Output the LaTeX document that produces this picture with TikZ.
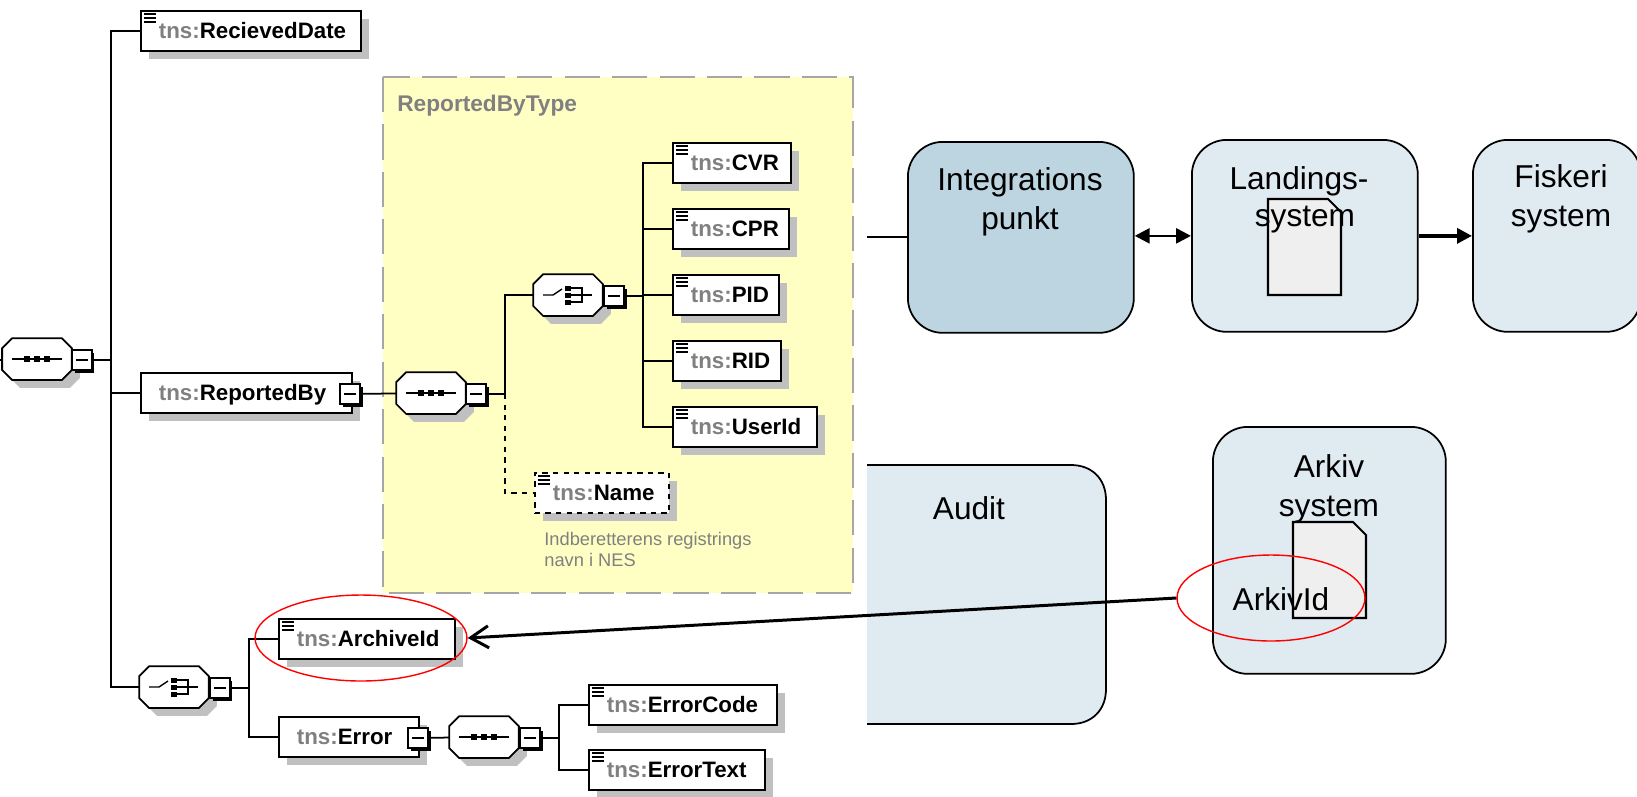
\documentclass[tikz,border=0pt]{standalone}
\usepackage{fontspec}
\setmainfont{Liberation Sans}
\usetikzlibrary{arrows.meta,shadows,shapes.geometric}

\definecolor{panelyellow}{HTML}{FFFFC4}
\definecolor{paneldash}{HTML}{A6A6A6}
\definecolor{boxshadow}{HTML}{C0C0C0}
\definecolor{tnsgray}{HTML}{808080}
\definecolor{lightblue}{HTML}{DFEAF1}
\definecolor{darkblue}{HTML}{BCD5E1}
\definecolor{sheetgray}{HTML}{EFEFEF}

\newcommand{\tns}[1]{\textbf{\textcolor{tnsgray}{tns:}#1}}

\makeatletter
\pgfdeclareshape{octabox}{
  \inheritsavedanchors[from=rectangle]
  \inheritanchorborder[from=rectangle]
  \inheritanchor[from=rectangle]{center}
  \inheritanchor[from=rectangle]{west}
  \inheritanchor[from=rectangle]{east}
  \backgroundpath{
    \southwest \pgf@xa=\pgf@x \pgf@ya=\pgf@y
    \northeast \pgf@xb=\pgf@x \pgf@yb=\pgf@y
    \pgfpathmoveto{\pgfqpoint{\dimexpr\pgf@xa+.2cm\relax}{\pgf@ya}}
    \pgfpathlineto{\pgfqpoint{\dimexpr\pgf@xb-.2cm\relax}{\pgf@ya}}
    \pgfpathlineto{\pgfqpoint{\pgf@xb}{\dimexpr\pgf@ya+.2cm\relax}}
    \pgfpathlineto{\pgfqpoint{\pgf@xb}{\dimexpr\pgf@yb-.2cm\relax}}
    \pgfpathlineto{\pgfqpoint{\dimexpr\pgf@xb-.2cm\relax}{\pgf@yb}}
    \pgfpathlineto{\pgfqpoint{\dimexpr\pgf@xa+.2cm\relax}{\pgf@yb}}
    \pgfpathlineto{\pgfqpoint{\pgf@xa}{\dimexpr\pgf@yb-.2cm\relax}}
    \pgfpathlineto{\pgfqpoint{\pgf@xa}{\dimexpr\pgf@ya+.2cm\relax}}
    \pgfpathclose
  }
}
\makeatother

\tikzset{
  link/.style={line width=1pt},
  softshadow/.style={drop shadow={shadow xshift=.16cm,shadow yshift=-.16cm,opacity=1,fill=boxshadow}},
  tnsbox/.style={draw, line width=1pt, fill=white, softshadow, anchor=west, inner ysep=0pt, inner xsep=.36cm,
    text width=#1*0.02cm-0.72cm, minimum height=.8cm, text height=.33cm, text depth=.02cm, align=left,
    font=\fontsize{12.7}{14}\selectfont},
  noted/.style={path picture={
    \foreach \dy in {3,7,11}
      \draw[solid, line width=.9pt] ([shift={(3,\dy)}]path picture bounding box.north west) -- +(12,0);
  }},
  octagon/.style={shape=octabox, draw, line width=1pt, fill=white, softshadow, inner sep=0pt,
    minimum width=1.36cm, minimum height=.8cm},
  seqgroup/.style={octagon, path picture={
    \begin{scope}[shift={(path picture bounding box.center)}]
      \draw[line width=.8pt] (-25,0) -- (25,0);
      \foreach \dx in {-10,0,10}
        \fill[black] (\dx-3,-3) rectangle (\dx+3,3);
    \end{scope}
  }},
  choicegroup/.style={octagon, path picture={
    \begin{scope}[shift={(path picture bounding box.center)}]
      \draw[line width=.8pt] (-25,0) -- (-15,0) -- (-6,-6);
      \draw[line width=.8pt] (0,-7) -- (14,-7) -- (14,7) -- (0,7) (0,0) -- (24,0);
      \foreach \dy in {-7,0,7}
        \fill[black] (-3,\dy-2.5) rectangle (3,\dy+2.5);
    \end{scope}
  }},
  minusbox/.style={draw, line width=1pt, fill=white, inner sep=0pt, minimum size=.4cm,
    drop shadow={shadow xshift=.05cm,shadow yshift=-.05cm,opacity=1,fill=black},
    path picture={
      \draw[line width=.8pt] ([shift={(4,0)}]path picture bounding box.west) -- ([shift={(-4,0)}]path picture bounding box.east);
  }},
  sysbox/.style={draw, line width=1pt, rounded corners=.7cm, fill=lightblue, anchor=north west},
  systext/.style={font=\fontsize{18}{22.2}\selectfont, align=center, inner sep=0pt},
  redoval/.style={ellipse, draw=red, line width=.8pt, inner sep=0pt},
  docsheet/.pic={
    \draw[line width=1.2pt, fill=sheetgray] (0,0) -- (60,0) -- (73,13) -- (73,96) -- (0,96) -- cycle;
  }
}

\begin{document}
\begin{tikzpicture}[x=0.02cm,y=-0.02cm]
  \useasboundingbox (1,0) rectangle (1638,796);

  % yellow type panel
  \fill[panelyellow] (384,77) rectangle (854,593);
  \draw[paneldash, line width=1.5pt, dash pattern=on 20pt off 7pt] (384,77) rectangle (854,593);
  \node[anchor=west, inner sep=0pt, text=tnsgray, font=\fontsize{12.9}{14}\selectfont\bfseries] (typename) at (398,106) {ReportedByType};

  % root sequence and its children
  \node[seqgroup] (rootseq) at (38,359) {};
  \node[minusbox] (rootminus) at (83,360) {};
  \coordinate (trunk) at (112,360);
  \draw[link] (1,360) -- (rootseq);
  \draw[link] (rootminus) -- (trunk);

  \node[tnsbox=220, noted] (recieved) at (141,31) {\tns{RecievedDate}};
  \node[tnsbox=211] (reported) at (141,393) {\tns{ReportedBy}};
  \node[minusbox] (reportedminus) at (351,394) {};
  \node[choicegroup] (rootchoice) at (175,687) {};
  \node[minusbox] (choiceminus) at (221,688) {};
  \draw[link] (trunk) |- (recieved);
  \draw[link] (trunk) |- (reported);
  \draw[link] (trunk) |- (rootchoice);

  % inside the panel
  \node[seqgroup] (typeseq) at (432,393) {};
  \node[minusbox] (typeminus) at (477,394) {};
  \node[choicegroup] (typechoice) at (569,295) {};
  \node[minusbox] (typechoiceminus) at (615,296) {};
  \coordinate (typetrunk) at (506,394);
  \coordinate (idtrunk) at (644,296);
  \draw[link] (reportedminus) -- (typeseq);
  \draw[link] (typeminus) -- (typetrunk);
  \draw[link] (typetrunk) |- (typechoice);
  \draw[link] (typechoiceminus) -- (idtrunk);
  \foreach \nm/\lbl/\bw/\yy in {cvr/CVR/118/163,cpr/CPR/116/229,pid/PID/106/295,rid/RID/108/361,userid/UserId/144/427}
  {
    \node[tnsbox=\bw, noted] (\nm) at (673,\yy) {\tns{\lbl}};
    \draw[link] (idtrunk) |- (\nm);
  }
  \node[tnsbox=134, noted, dashed] (name) at (535,493) {\tns{Name}};
  \draw[link, dashed] (typetrunk) |- (name);
  \node[anchor=north west, inner sep=0pt, text=tnsgray, align=left, font=\fontsize{10.4}{11.9}\selectfont] (namenote) at (545,532) {Indberetterens registrings\\navn i NES};

  % bottom choice
  \coordinate (lowtrunk) at (250,688);
  \draw[link] (choiceminus) -- (lowtrunk);
  \node[tnsbox=176, noted] (archive) at (279,639) {\tns{ArchiveId}};
  \node[tnsbox=140] (error) at (279,737) {\tns{Error}};
  \node[minusbox] (errorminus) at (419,738) {};
  \node[seqgroup] (errorseq) at (485,737) {};
  \node[minusbox] (errorseqminus) at (531,738) {};
  \coordinate (errortrunk) at (560,738);
  \draw[link] (lowtrunk) |- (archive);
  \draw[link] (lowtrunk) |- (error);
  \draw[link] (errorminus) -- (errorseq);
  \draw[link] (errorseqminus) -- (errortrunk);
  \node[tnsbox=188, noted] (errorcode) at (589,705) {\tns{ErrorCode}};
  \node[tnsbox=176, noted] (errortext) at (589,770) {\tns{ErrorText}};
  \draw[link] (errortrunk) |- (errorcode);
  \draw[link] (errortrunk) |- (errortext);

  % system boxes
  \node[sysbox, fill=darkblue, minimum width=4.52cm, minimum height=3.82cm] (integration) at (908,141) {};
  \node[sysbox, minimum width=4.52cm, minimum height=3.84cm] (landing) at (1192,139) {};
  \node[sysbox, minimum width=3.36cm, minimum height=3.84cm] (fishery) at (1473,139) {};
  \node[sysbox, minimum width=4.66cm, minimum height=4.94cm] (arkiv) at (1213,426) {};
  \path[fill=lightblue] (868,465) -- (1073,465) arc[start angle=-90, end angle=0, radius=34] -- (1107,690) arc[start angle=0, end angle=90, radius=34] -- (868,724) -- cycle;
  \draw[line width=1pt] (868,465) -- (1072,465) .. controls (1093,465) and (1107,479) .. (1107,500) -- (1107,689) .. controls (1107,710) and (1093,724) .. (1072,724) -- (868,724);

  \coordinate (stub) at (868,237);
  \draw[line width=1.6pt] (stub) -- (integration.west |- stub);
  \draw[line width=1.5pt, {Triangle[length=.3cm,width=.3cm]}-{Triangle[length=.3cm,width=.3cm]}] (integration.east |- landing.west) -- (landing.west);
  \draw[line width=2pt, -{Triangle[length=.3cm,width=.3cm]}] (landing.east) -- (fishery.west);

  \pic at (1269,199) {docsheet};
  \pic at (1294,522) {docsheet};

  \node[systext] (integrationtext) at (1021,202) {Integrations\\punkt};
  \node[systext] (landingtext) at (1300,181) {Landings-};
  \node[systext] (landingtext2) at (1306,220) {system};
  \node[systext] (fisherytext) at (1562,199) {Fiskeri\\system};
  \node[systext] (audittext) at (970,508) {Audit};
  \node[systext] (arkivtext) at (1330,489) {Arkiv\\system};
  \node[systext] (arkivid) at (1282,599) {ArkivId};

  % marks
  \node[redoval, minimum width=4.24cm, minimum height=1.72cm] (archiveoval) at (362,638) {};
  \node[redoval, minimum width=3.76cm, minimum height=1.72cm] (arkivoval) at (1272,598) {};
  \draw[line width=1.7pt, -{Straight Barb[length=.36cm,width=.44cm]}] (arkivoval.west) -- (archiveoval.east);
\end{tikzpicture}
\end{document}
